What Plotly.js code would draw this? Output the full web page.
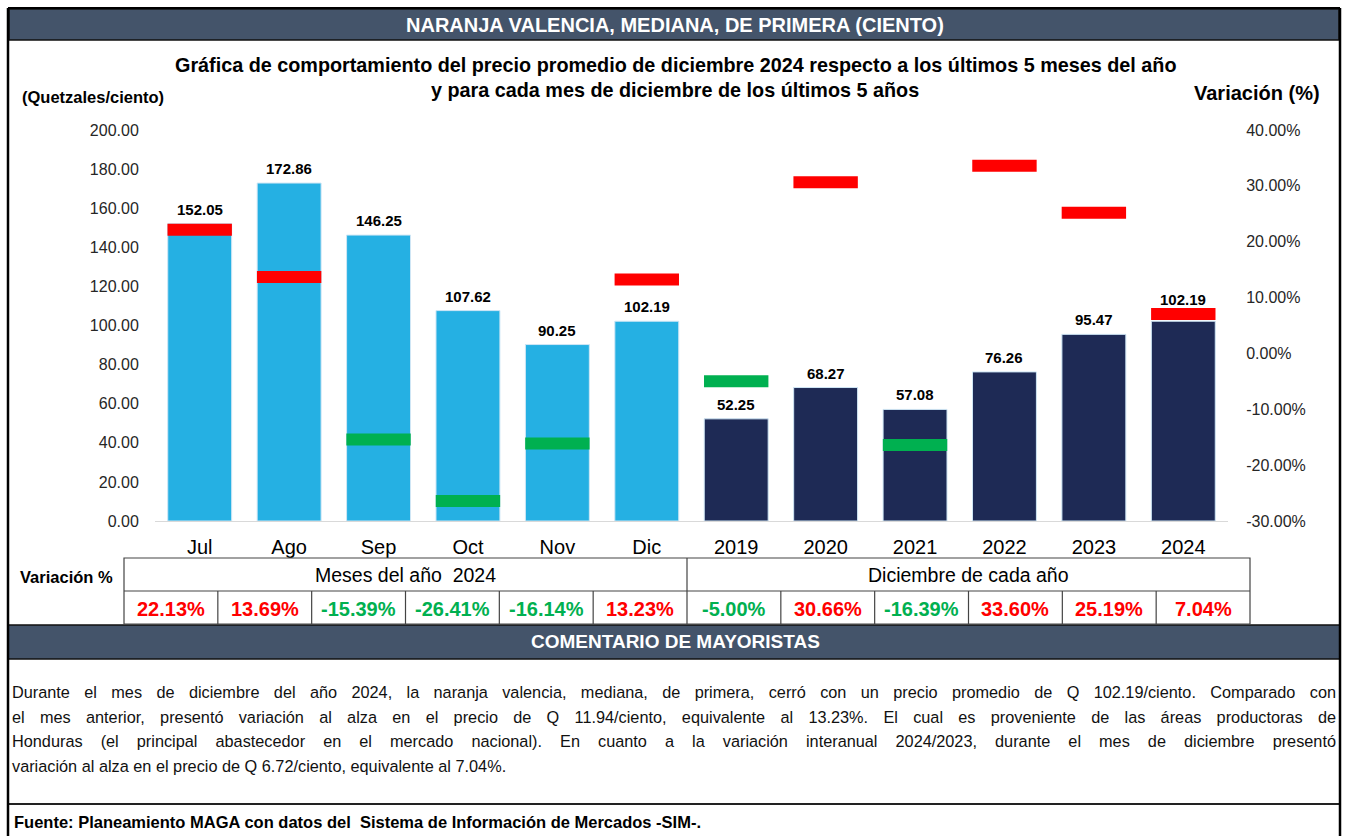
<!DOCTYPE html>
<html>
<head>
<meta charset="utf-8">
<script src="https://cdn.plot.ly/plotly-3.0.1.min.js"></script>
<style>
  body { margin: 0; background: #fff; }
  #graph { width: 1346px; height: 836px; }
  #comentario {
    position: absolute; left: 12px; top: 680px; width: 1324px;
    font-family: "Liberation Sans", Arial, sans-serif; font-size: 16.3px;
    line-height: 24.7px; color: #111;
  }
  #comentario div { text-align: justify; text-align-last: justify; }
  #comentario div.last { text-align-last: left; }
</style>
</head>
<body>
<div id="graph"></div>
<div id="comentario"></div>
<script>
const categories = ["Jul", "Ago", "Sep", "Oct", "Nov", "Dic", "2019", "2020", "2021", "2022", "2023", "2024"];
const prices = [152.05, 172.86, 146.25, 107.62, 90.25, 102.19, 52.25, 68.27, 57.08, 76.26, 95.47, 102.19];
const variation = [22.13, 13.69, -15.39, -26.41, -16.14, 13.23, -5.0, 30.66, -16.39, 33.6, 25.19, 7.04];
const monthCount = 6;
const groupLabels = ["Meses del año  2024", "Diciembre de cada año"];
const pctTicks = [-30, -20, -10, 0, 10, 20, 30, 40];

const commentLines = [
  "Durante el mes de diciembre del año 2024, la naranja valencia, mediana, de primera, cerró con un precio promedio de Q 102.19/ciento. Comparado con",
  "el mes anterior, presentó variación al alza en el precio de Q 11.94/ciento, equivalente al 13.23%. El cual es proveniente de las áreas productoras de",
  "Honduras (el principal abastecedor en el mercado nacional). En cuanto a la variación interanual 2024/2023, durante el mes de diciembre presentó",
  "variación al alza en el precio de Q 6.72/ciento, equivalente al 7.04%."
];

const FONT = "Liberation Sans, Arial, sans-serif";
const HEAD = "#44546A";
const RED = "#FF0000";
const GREEN = "#00B050";

// pixel -> paper helpers (plot area 155..1228 x 130..521)
const L = 155, R = 1228, T = 130, B = 521;
const px = x => (x - L) / (R - L);
const py = y => (B - y) / (B - T);
const Y1MAX = 200, Y2MIN = -0.3, Y2MAX = 0.4;

function text(x, y, t, size, opts) {
  opts = opts || {};
  return {
    xref: "paper", yref: "paper", x: px(x), y: py(y), text: t, showarrow: false,
    xanchor: opts.anchor || "center", yanchor: "middle",
    font: { family: FONT, size: size, color: opts.color || "#000", weight: opts.bold ? "bold" : "normal" }
  };
}

function rect(x0, y0, x1, y1, fill, line, width) {
  return {
    type: "rect", xref: "paper", yref: "paper",
    x0: px(x0), x1: px(x1), y0: py(y0), y1: py(y1),
    fillcolor: fill || "rgba(0,0,0,0)",
    line: { color: line || "rgba(0,0,0,0)", width: width || 0 }
  };
}

function hline(x0, x1, y, color, width) {
  return { type: "line", xref: "paper", yref: "paper", x0: px(x0), x1: px(x1), y0: py(y), y1: py(y), line: { color: color, width: width } };
}
function vline(x, y0, y1, color, width) {
  return { type: "line", xref: "paper", yref: "paper", x0: px(x), x1: px(x), y0: py(y0), y1: py(y1), line: { color: color, width: width } };
}

const barColors = categories.map((c, i) => (i < monthCount ? "#25B0E3" : "#1E2A55"));
const varColors = variation.map(v => (v >= 0 ? RED : GREEN));

const data = [
  {
    type: "bar", x: categories, y: prices,
    marker: { color: barColors, line: { color: "#CFE6F5", width: 1 } },
    hoverinfo: "skip"
  },
  {
    type: "scatter", mode: "markers", x: categories, y: variation.map(v => v / 100), yaxis: "y2",
    marker: { symbol: "line-ew", size: 46, line: { color: varColors, width: 12 } },
    hoverinfo: "skip"
  }
];

const annotations = [];
// value labels; lifted over the variation mark when it sits on the bar top
prices.forEach((p, i) => {
  const barTop = B - (p / Y1MAX) * (B - T);
  const markTop = T + ((Y2MAX - variation[i] / 100) / (Y2MAX - Y2MIN)) * (B - T) - 6;
  let shift = 4;
  if (markTop < barTop && barTop - markTop < 30) shift += barTop - markTop - 6;
  annotations.push({
    xref: "x", yref: "y", x: i, y: p, text: p.toFixed(2), showarrow: false,
    yanchor: "bottom", yshift: shift,
    font: { family: FONT, size: 15, color: "#000", weight: "bold" }
  });
});

// titles
annotations.push(text(675, 25, "NARANJA VALENCIA, MEDIANA, DE PRIMERA (CIENTO)", 20, { bold: true, color: "#fff" }));
annotations.push(text(675, 65, "Gráfica de comportamiento del precio promedio de diciembre 2024 respecto a los últimos 5 meses del año", 19.8, { bold: true }));
annotations.push(text(675, 90, "y para cada mes de diciembre de los últimos 5 años", 19.8, { bold: true }));
annotations.push(text(20, 97, "(Quetzales/ciento)", 16.5, { bold: true, anchor: "left" }));
annotations.push(text(1322, 93, "Variación (%)", 20, { bold: true, anchor: "right" }));

// table
const TL = 124, TR = 1250, TY0 = 558, TY1 = 591, TY2 = 624;
const colW = (TR - TL) / categories.length;
const splitX = TL + colW * monthCount;
annotations.push(text(18, 577, "Variación %", 16.5, { bold: true, anchor: "left" }));
annotations.push(text((TL + splitX) / 2, (TY0 + TY1) / 2, groupLabels[0], 19.5));
annotations.push(text((splitX + TR) / 2, (TY0 + TY1) / 2, groupLabels[1], 19.5));
variation.forEach((v, i) => {
  annotations.push(text(TL + colW * (i + 0.5), (TY1 + TY2) / 2 + 1, v.toFixed(2) + "%", 20, { bold: true, color: varColors[i] }));
});

annotations.push(text(675, 641, "COMENTARIO DE MAYORISTAS", 19, { bold: true, color: "#fff" }));
annotations.push(text(12, 822, "Fuente: Planeamiento MAGA con datos del  Sistema de Información de Mercados -SIM-.", 16.5, { bold: true, anchor: "left" }));

const shapes = [
  rect(9, 9, 1339, 40, HEAD, "#111", 1.5),
  rect(8, 625, 1340, 659, HEAD, "#111", 1.5),
  rect(TL, TY0, TR, TY2, null, "#444", 1.2),
  hline(TL, TR, TY1, "#444", 1.2),
  vline(splitX, TY0, TY1, "#444", 1.2),
  hline(8, 1340, 804, "#222", 2),
  vline(8, 8, 836, "#000", 2.5),
  vline(1340, 8, 836, "#000", 2.5),
  hline(8, 1340, 8, "#000", 2)
];
for (let i = 1; i < categories.length; i++) {
  shapes.push(vline(TL + colW * i, TY1, TY2, "#444", 1.2));
}

const tickFont = { family: FONT, size: 16, color: "#262626" };
const layout = {
  width: 1346, height: 836,
  margin: { l: L, r: 1346 - R, t: T, b: 836 - B },
  paper_bgcolor: "#fff", plot_bgcolor: "#fff",
  showlegend: false, bargap: 0.285,
  xaxis: {
    type: "category", categoryorder: "array", categoryarray: categories,
    range: [-0.5, categories.length - 0.5],
    showline: true, linecolor: "#D9D9D9", linewidth: 1,
    ticks: "outside", ticklen: 8, tickcolor: "rgba(0,0,0,0)",
    tickfont: { family: FONT, size: 20, color: "#000" }, fixedrange: true
  },
  yaxis: {
    range: [0, Y1MAX], dtick: 20, tickformat: ".2f", showgrid: false, zeroline: false,
    ticks: "outside", ticklen: 12, tickcolor: "rgba(0,0,0,0)", tickfont: tickFont, fixedrange: true
  },
  yaxis2: {
    overlaying: "y", side: "right", range: [Y2MIN, Y2MAX],
    tickvals: pctTicks.map(t => t / 100), ticktext: pctTicks.map(t => t.toFixed(2) + "%"),
    showgrid: false, zeroline: false, ticks: "outside", ticklen: 14, tickcolor: "rgba(0,0,0,0)",
    tickfont: tickFont, fixedrange: true
  },
  annotations: annotations,
  shapes: shapes
};

Plotly.newPlot("graph", data, layout, { displayModeBar: false, staticPlot: true });

const box = document.getElementById("comentario");
commentLines.forEach((line, i) => {
  const d = document.createElement("div");
  d.textContent = line;
  if (i === commentLines.length - 1) d.className = "last";
  box.appendChild(d);
});
</script>
</body>
</html>
